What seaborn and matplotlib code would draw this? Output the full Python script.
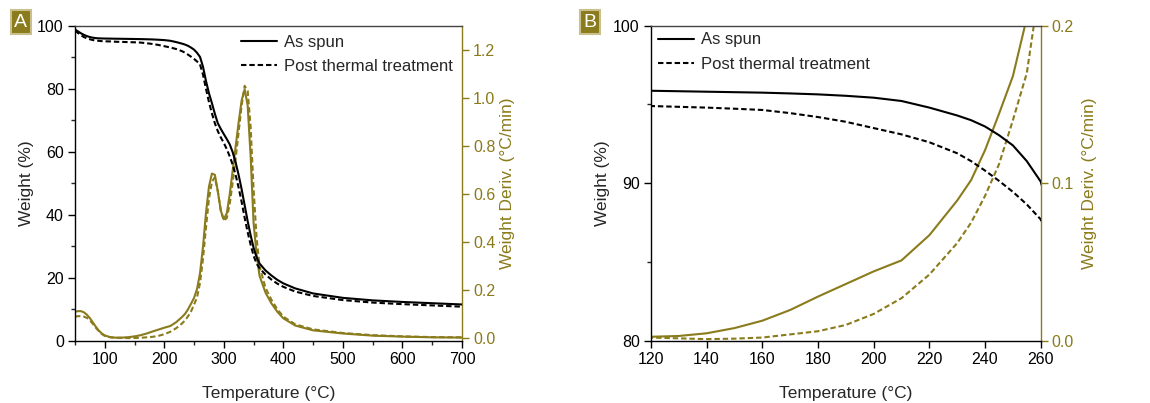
import numpy as np
import pandas as pd
import matplotlib
matplotlib.use("Agg")
import matplotlib.pyplot as plt
from matplotlib.ticker import MultipleLocator
import seaborn as sns

# ---------------- data ----------------
temperature = [50, 55, 60, 65, 70, 75, 80, 85, 90, 95, 100, 110, 120, 130, 140, 150,
               160, 170, 180, 190, 200, 210, 220, 230, 235, 240, 245, 250, 255, 260,
               265, 270, 275, 280, 285, 290, 295, 300, 305, 310, 315, 320, 325, 330,
               335, 340, 345, 350, 355, 360, 370, 380, 390, 400, 420, 450, 500, 550,
               600, 650, 700]

weight_as_spun = [98.8, 98.2, 97.6, 97.1, 96.7, 96.4, 96.2, 96.05, 96.0, 95.95, 95.93,
                  95.9, 95.87, 95.84, 95.81, 95.78, 95.75, 95.7, 95.64, 95.55, 95.43,
                  95.22, 94.8, 94.3, 94.0, 93.6, 93.05, 92.4, 91.4, 90.1, 87.0, 82.5,
                  78.6, 75.4, 72.0, 69.0, 67.2, 65.6, 64.0, 62.3, 59.8, 56.5, 52.5,
                  48.0, 43.0, 38.0, 33.5, 29.5, 26.5, 24.5, 22.3, 20.7, 19.3, 18.2,
                  16.6, 15.0, 13.6, 12.8, 12.3, 11.9, 11.5]

weight_post = [98.5, 97.7, 97.0, 96.4, 96.0, 95.7, 95.45, 95.3, 95.2, 95.1, 95.05,
               95.0, 94.9, 94.85, 94.8, 94.73, 94.65, 94.45, 94.2, 93.9, 93.5, 93.1,
               92.6, 91.9, 91.4, 90.8, 90.15, 89.45, 88.65, 87.7, 84.5, 80.0, 75.8,
               72.2, 69.0, 66.5, 64.5, 62.8, 60.8, 58.5, 55.8, 52.5, 48.5, 44.0, 39.0,
               34.5, 30.5, 27.0, 24.5, 23.0, 21.0, 19.4, 18.1, 17.1, 15.6, 14.2, 12.9,
               12.1, 11.6, 11.2, 10.8]

deriv_as_spun = [0.110, 0.113, 0.113, 0.108, 0.098, 0.084, 0.066, 0.048, 0.032, 0.020,
                 0.012, 0.004, 0.0025, 0.003, 0.0047, 0.008, 0.0127, 0.0195, 0.028,
                 0.036, 0.044, 0.051, 0.067, 0.089, 0.102, 0.121, 0.144, 0.168, 0.205,
                 0.27, 0.38, 0.52, 0.63, 0.685, 0.68, 0.61, 0.53, 0.495, 0.52, 0.60,
                 0.70, 0.80, 0.90, 0.99, 1.035, 0.97, 0.76, 0.48, 0.35, 0.26, 0.19,
                 0.145, 0.11, 0.083, 0.053, 0.033, 0.020, 0.011, 0.007, 0.004, 0.003]

deriv_post = [0.090, 0.092, 0.092, 0.090, 0.085, 0.075, 0.060, 0.044, 0.030, 0.018,
              0.010, 0.004, 0.002, 0.0015, 0.001, 0.0013, 0.002, 0.004, 0.006, 0.010,
              0.017, 0.027, 0.042, 0.062, 0.075, 0.092, 0.112, 0.140, 0.170, 0.23,
              0.33, 0.46, 0.58, 0.65, 0.67, 0.61, 0.53, 0.49, 0.50, 0.56, 0.65, 0.75,
              0.86, 0.97, 1.05, 1.03, 0.88, 0.62, 0.42, 0.30, 0.21, 0.16, 0.12, 0.09,
              0.058, 0.037, 0.022, 0.013, 0.008, 0.005, 0.004]

series_labels = ["As spun", "Post thermal treatment"]
panel_labels = ["A", "B"]

# ---------------- styling ----------------
sns.set_style("ticks")
plt.rcParams["font.family"] = ["Liberation Sans", "DejaVu Sans"]
plt.rcParams["axes.linewidth"] = 1.0

OLIVE = "#8a7b1c"
DASH = (0, (2.6, 1.4))

fig = plt.figure(figsize=(11.5, 4.03), dpi=100)
axA = fig.add_axes([0.0652, 0.1546, 0.3365, 0.7816])
axB = fig.add_axes([0.566, 0.1546, 0.339, 0.7816])

df = pd.DataFrame({"T": temperature, "w1": weight_as_spun, "w2": weight_post,
                   "d1": deriv_as_spun, "d2": deriv_post})


def draw(ax, xlim, xmaj, xmin, ylim, ymaj, ymin, y2lim, y2maj, y2fmt, legend_loc,
         ylpad, y2lpad, lgpad):
    sns.lineplot(data=df, x="T", y="w1", ax=ax, color="black", lw=1.5,
                 sort=False, label=series_labels[0], zorder=3)
    sns.lineplot(data=df, x="T", y="w2", ax=ax, color="black", lw=1.5,
                 sort=False, label=series_labels[1], linestyle=DASH, zorder=3)
    ax2 = ax.twinx()
    sns.lineplot(data=df, x="T", y="d1", ax=ax2, color=OLIVE, lw=1.5, sort=False)
    sns.lineplot(data=df, x="T", y="d2", ax=ax2, color=OLIVE, lw=1.5, sort=False,
                 linestyle=DASH)

    ax.set_xlim(*xlim)
    ax.set_ylim(*ylim)
    ax2.set_ylim(*y2lim)
    ax.xaxis.set_major_locator(MultipleLocator(xmaj))
    if xmin:
        ax.xaxis.set_minor_locator(MultipleLocator(xmin))
    ax.yaxis.set_major_locator(MultipleLocator(ymaj))
    ax.yaxis.set_minor_locator(MultipleLocator(ymin))
    ax2.yaxis.set_major_locator(MultipleLocator(y2maj))
    ax2.yaxis.set_major_formatter(plt.FormatStrFormatter(y2fmt))

    ax.tick_params(axis="both", which="major", direction="out", length=5,
                   width=1, labelsize=11.5, colors="black", pad=3)
    ax.tick_params(axis="both", which="minor", direction="out", length=3, width=1)
    ax.tick_params(axis="x", top=False, which="both")
    ax2.tick_params(axis="y", which="major", direction="out", length=5, width=1,
                    labelsize=11.5, colors=OLIVE, pad=3)

    for s in ["top", "left", "bottom"]:
        ax.spines[s].set_visible(True)
        ax.spines[s].set_color("black" if s != "top" else "#444444")
    ax.spines["right"].set_visible(False)
    for s in ["top", "left", "bottom"]:
        ax2.spines[s].set_visible(False)
    ax2.spines["right"].set_color(OLIVE)
    ax2.spines["right"].set_linewidth(1.0)

    ax.set_xlabel("Temperature (\u00b0C)", fontsize=12.5, labelpad=14)
    ax.set_ylabel("Weight (%)", fontsize=12.5, labelpad=ylpad)
    ax2.set_ylabel("Weight Deriv. (\u00b0C/min)", fontsize=12.5, color=OLIVE,
                   labelpad=y2lpad)

    ax.legend(loc=legend_loc, frameon=False, fontsize=12, handlelength=2.2,
              handletextpad=0.4, labelspacing=0.55, borderaxespad=lgpad)
    ax.set_zorder(ax2.get_zorder() + 1)
    ax.patch.set_visible(False)
    return ax2


draw(axA, (50, 700), 100, 50, (0, 100), 20, 10, (-0.01, 1.30), 0.2, "%.1f",
     "upper right", 2, 3.5, 0.15)
draw(axB, (120, 260), 20, None, (80, 100), 10, 5, (0.0, 0.2), 0.1, "%.1f",
     "upper left", 2.5, 6, 0.0)

# panel letters
for lab, x in zip(panel_labels, [0.018, 0.513]):
    fig.text(x, 0.945, lab, fontsize=14, color="white", ha="center", va="center",
             bbox=dict(boxstyle="square,pad=0.18", facecolor=OLIVE,
                       edgecolor="#c9c08e", linewidth=1.5))

fig.savefig("out.png", dpi=100)
